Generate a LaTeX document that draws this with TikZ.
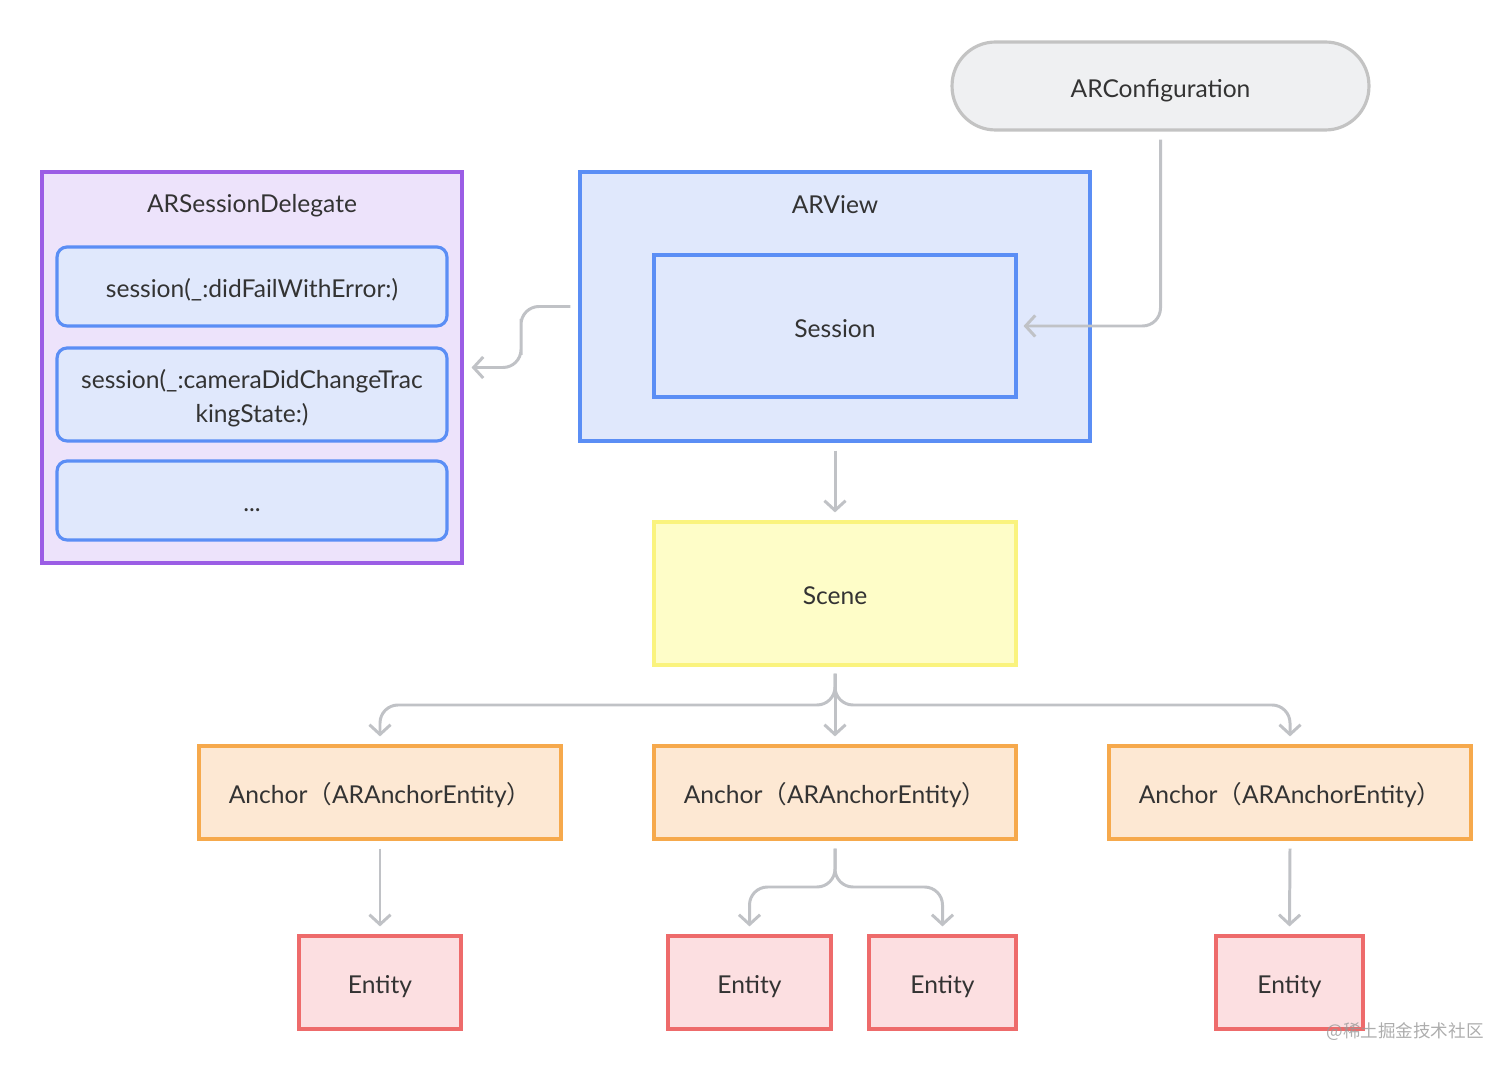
\documentclass[tikz,border=0pt]{standalone}
\usepackage{fontspec}
\setmainfont{Lato}
\newfontfamily\cjkfont{Noto Sans CJK SC}
\usetikzlibrary{arrows.meta,calc}
\definecolor{txt}{HTML}{333333}
\definecolor{conn}{HTML}{C0C2C6}
\definecolor{grayfill}{HTML}{EFF0F2}
\definecolor{graystroke}{HTML}{C3C3C3}
\definecolor{purpstroke}{HTML}{9B5DE5}
\definecolor{purpfill}{HTML}{EDE3FB}
\definecolor{bluestroke}{HTML}{5B8EF5}
\definecolor{bluefill}{HTML}{E0E8FC}
\definecolor{yelstroke}{HTML}{FAF37E}
\definecolor{yelfill}{HTML}{FEFDC8}
\definecolor{orstroke}{HTML}{F6A94C}
\definecolor{orfill}{HTML}{FDE8D3}
\definecolor{redstroke}{HTML}{EE6B6B}
\definecolor{redfill}{HTML}{FCDFE1}
\newcommand{\fwl}{{\cjkfont （}}
\newcommand{\fwr}{{\cjkfont ）}}
\tikzset{
  x=0.02cm, y=-0.02cm,
  basebox/.style={draw, line width=1.8pt, inner sep=0pt, align=center, text=txt,
    font=\fontsize{14pt}{19.5pt}\selectfont},
  oneline/.style={text height=15pt, text depth=2pt},
  pill/.style={basebox, oneline, draw=graystroke, fill=grayfill, rounded corners=0.87cm},
  purpbox/.style={basebox, draw=purpstroke, fill=purpfill},
  bluebox/.style={basebox, draw=bluestroke, fill=bluefill},
  bluemeth/.style={bluebox, rounded corners=0.2cm},
  yelbox/.style={basebox, oneline, draw=yelstroke, fill=yelfill},
  orbox/.style={basebox, oneline, draw=orstroke, fill=orfill},
  redbox/.style={basebox, oneline, draw=redstroke, fill=redfill},
  title/.style={text=txt, font=\fontsize{14pt}{19.5pt}\selectfont, inner sep=0pt},
  conn/.style={draw=conn, line width=1.7pt, rounded corners=0.36cm,
    -{Straight Barb[length=5.5pt,width=12pt]}},
}
\begin{document}
\begin{tikzpicture}
\useasboundingbox (0,0) rectangle (1512,1070);
% nodes
\node[pill, minimum width=8.34cm, minimum height=1.76cm] (conf) at (1160.5,86) {ARConfiguration};
\node[purpbox, minimum width=8.4cm, minimum height=7.82cm] (deleg) at (252,367.5) {};
\node[title] (delegt) at (252,206) {ARSessionDelegate};
\node[bluemeth, oneline, minimum width=7.8cm, minimum height=1.58cm] (m1) at (252,286.5) {session(\_:didFailWithError:)};
\node[bluemeth, minimum width=7.8cm, minimum height=1.86cm] (m2) at (252,394.5) {};
\node[title, align=center, text=txt] (m2t) at (252,398.5) {session(\_:cameraDidChangeTrac\\kingState:)};
\node[bluemeth, oneline, minimum width=7.8cm, minimum height=1.58cm] (m3) at (252,500.5) {...};
\node[bluebox, minimum width=10.2cm, minimum height=5.38cm] (arview) at (835,306.5) {};
\node[title] (arviewt) at (835,205) {ARView};
\node[bluebox, oneline, minimum width=7.24cm, minimum height=2.84cm] (session) at (835,326) {Session};
\node[yelbox, minimum width=7.24cm, minimum height=2.86cm] (scene) at (835,593.5) {Scene};
\node[orbox, minimum width=7.24cm, minimum height=1.86cm] (a1) at (380,792.5) {Anchor\fwl ARAnchorEntity\fwr};
\node[orbox, minimum width=7.24cm, minimum height=1.86cm] (a2) at (835,792.5) {Anchor\fwl ARAnchorEntity\fwr};
\node[orbox, minimum width=7.24cm, minimum height=1.86cm] (a3) at (1290,792.5) {Anchor\fwl ARAnchorEntity\fwr};
\node[redbox, minimum width=3.24cm, minimum height=1.86cm] (e1) at (380,982.5) {Entity};
\node[redbox, minimum width=3.26cm, minimum height=1.86cm] (e2) at (749.5,982.5) {Entity};
\node[redbox, minimum width=2.94cm, minimum height=1.86cm] (e3) at (942.5,982.5) {Entity};
\node[redbox, minimum width=2.94cm, minimum height=1.86cm] (e4) at (1289.5,982.5) {Entity};
\node[text=black!40, opacity=0.8, inner sep=0pt, font=\cjkfont\fontsize{10pt}{12pt}\selectfont] (wm) at (1405,1032) {@稀土掘金技术社区};
% connectors
\coordinate (cs) at ($(conf.south)+(0,8)$);
\coordinate (se) at ($(session.east)+(6,0)$);
\draw[conn] (cs) |- (se);
\coordinate (avw) at ($(arview.west)+(-8,0)$);
\coordinate (dle) at ($(deleg.east)+(8,0)$);
\draw[conn] (avw) -| ($(avw)!0.5!(dle)$) |- (dle);
\draw[conn] ($(arview.south)+(0,8)$) -- ($(scene.north)+(0,-8)$);
\coordinate (ss) at ($(scene.south)+(0,7)$);
\coordinate (j1) at (835,705);
\draw[conn] (ss) -- (j1) -| ($(a1.north)+(0,-8)$);
\draw[conn] (ss) -- ($(a2.north)+(0,-8)$);
\draw[conn] (ss) -- (j1) -| ($(a3.north)+(0,-8)$);
\draw[conn] ($(a1.south)+(0,8)$) -- ($(e1.north)+(0,-8)$);
\draw[conn] ($(a3.south)+(0,8)$) -- ($(e4.north)+(0,-8)$);
\coordinate (as2) at ($(a2.south)+(0,8)$);
\coordinate (j2) at (835,887);
\draw[conn] (as2) -- (j2) -| ($(e2.north)+(0,-8)$);
\draw[conn] (as2) -- (j2) -| ($(e3.north)+(0,-8)$);
\end{tikzpicture}
\end{document}
